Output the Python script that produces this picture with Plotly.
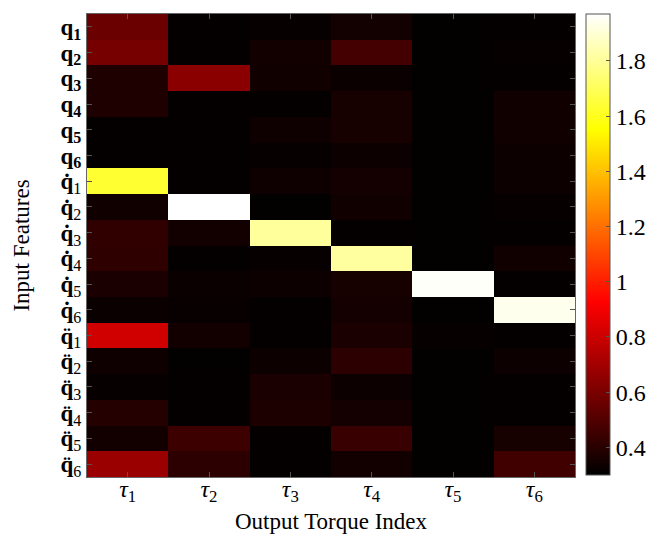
import plotly.graph_objects as go

# Input features (rows, top to bottom) and output torques (columns)
features = [
    "<b>q<sub>1</sub></b>", "<b>q<sub>2</sub></b>", "<b>q<sub>3</sub></b>",
    "<b>q<sub>4</sub></b>", "<b>q<sub>5</sub></b>", "<b>q<sub>6</sub></b>",
    "<b>q\u0307</b><sub>1</sub>", "<b>q\u0307</b><sub>2</sub>", "<b>q\u0307</b><sub>3</sub>",
    "<b>q\u0307</b><sub>4</sub>", "<b>q\u0307</b><sub>5</sub>", "<b>q\u0307</b><sub>6</sub>",
    "<b>q\u0308</b><sub>1</sub>", "<b>q\u0308</b><sub>2</sub>", "<b>q\u0308</b><sub>3</sub>",
    "<b>q\u0308</b><sub>4</sub>", "<b>q\u0308</b><sub>5</sub>", "<b>q\u0308</b><sub>6</sub>",
]
torques = ["<i>τ</i><sub>1</sub>", "<i>τ</i><sub>2</sub>", "<i>τ</i><sub>3</sub>",
           "<i>τ</i><sub>4</sub>", "<i>τ</i><sub>5</sub>", "<i>τ</i><sub>6</sub>"]

# Feature importance values, one row per input feature (τ1 .. τ6)
row_q1 = [0.563, 0.312, 0.315, 0.347, 0.307, 0.312]
row_q2 = [0.590, 0.310, 0.344, 0.467, 0.307, 0.315]
row_q3 = [0.374, 0.639, 0.340, 0.327, 0.307, 0.312]
row_q4 = [0.374, 0.312, 0.310, 0.354, 0.307, 0.339]
row_q5 = [0.312, 0.312, 0.334, 0.354, 0.307, 0.339]
row_q6 = [0.310, 0.312, 0.315, 0.330, 0.307, 0.332]
row_dq1 = [1.634, 0.312, 0.334, 0.349, 0.307, 0.330]
row_dq2 = [0.339, 1.970, 0.307, 0.339, 0.307, 0.315]
row_dq3 = [0.418, 0.344, 1.806, 0.312, 0.307, 0.312]
row_dq4 = [0.413, 0.312, 0.315, 1.815, 0.307, 0.339]
row_dq5 = [0.364, 0.325, 0.330, 0.354, 1.960, 0.310]
row_dq6 = [0.325, 0.320, 0.310, 0.349, 0.307, 1.942]
row_ddq1 = [0.811, 0.344, 0.310, 0.364, 0.315, 0.310]
row_ddq2 = [0.337, 0.307, 0.330, 0.408, 0.307, 0.330]
row_ddq3 = [0.315, 0.310, 0.364, 0.330, 0.307, 0.312]
row_ddq4 = [0.388, 0.310, 0.369, 0.349, 0.307, 0.310]
row_ddq5 = [0.344, 0.447, 0.310, 0.437, 0.307, 0.354]
row_ddq6 = [0.678, 0.408, 0.310, 0.344, 0.307, 0.457]

z = [row_q1, row_q2, row_q3, row_q4, row_q5, row_q6,
     row_dq1, row_dq2, row_dq3, row_dq4, row_dq5, row_dq6,
     row_ddq1, row_ddq2, row_ddq3, row_ddq4, row_ddq5, row_ddq6]

# "hot" colormap: black -> red -> yellow -> white
hot = [[0.0, "rgb(0,0,0)"], [0.375, "rgb(255,0,0)"],
       [0.75, "rgb(255,255,0)"], [1.0, "rgb(255,255,255)"]]

FONT = "Liberation Serif, Times New Roman, serif"

fig = go.Figure(go.Heatmap(
    z=z, x=torques, y=features,
    colorscale=hot, zmin=0.30, zmax=1.97,
    colorbar=dict(
        thickness=24, lenmode="pixels", len=461,
        x=1.0225, xanchor="left", xpad=0,
        y=1, yanchor="top", ypad=0,
        outlinewidth=1, outlinecolor="#555555",
        tick0=0.4, dtick=0.2, ticks="inside", ticklen=4, tickcolor="#555555",
        tickfont=dict(family=FONT, size=24, color="black"),
    ),
))

fig.update_layout(
    width=671, height=536,
    margin=dict(l=87, r=96, t=14, b=59),
    plot_bgcolor="white", paper_bgcolor="white",
    font=dict(family=FONT, color="black"),
)
fig.update_xaxes(
    title=dict(text="Output Torque Index", font=dict(size=23), standoff=8),
    tickmode="array", tickvals=torques, ticktext=torques,
    tickfont=dict(size=24), automargin=False, ticklabelstandoff=-10,
    showline=True, linecolor="#666666", linewidth=1, mirror="ticks",
    ticks="inside", ticklen=5, tickcolor="#555555",
)
fig.update_yaxes(
    title=dict(text="Input Features", font=dict(size=23), standoff=24),
    tickmode="array", tickvals=features, ticktext=features,
    tickfont=dict(size=23), automargin=False,
    autorange="reversed",
    showline=True, linecolor="#666666", linewidth=1, mirror="ticks",
    ticks="inside", ticklen=5, tickcolor="#555555",
)

fig.write_html("out.html")
